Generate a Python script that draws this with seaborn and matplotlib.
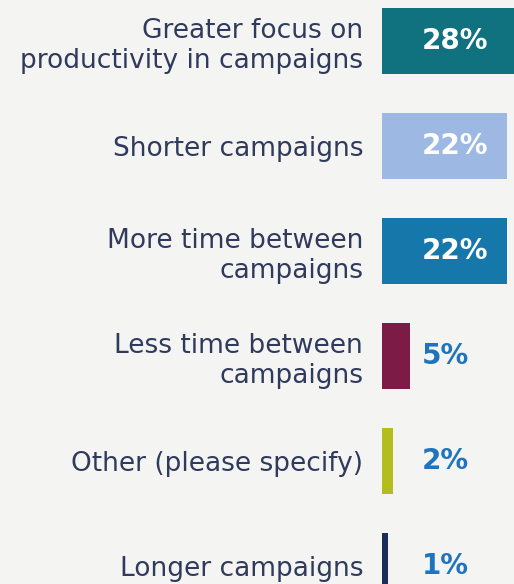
import matplotlib
matplotlib.use("Agg")
import matplotlib.pyplot as plt
import seaborn as sns
import pandas as pd

# Survey responses: how campaign planning has changed
categories = [
    "Greater focus on\nproductivity in campaigns",
    "Shorter campaigns",
    "More time between\ncampaigns",
    "Less time between\ncampaigns",
    "Other (please specify)",
    "Longer campaigns",
]
shares = [28, 22, 22, 5, 2, 1]
value_labels = ["28%", "22%", "22%", "5%", "2%", "1%"]
bar_colors = ["#11727f", "#9db8e2", "#1677ab", "#7c1b46", "#b3bd1c", "#1d2c58"]

df = pd.DataFrame({"category": categories, "share": shares})

BG = "#f4f4f2"
LABEL_COLOR = "#2f3a5c"
VALUE_BLUE = "#1f74bd"

sns.set_theme(style="white")
plt.rcParams["font.family"] = ["DejaVu Sans"]

fig = plt.figure(figsize=(5.14, 5.84), dpi=100, facecolor=BG)
ax = fig.add_axes([382 / 514, 0, 1 - 382 / 514, 1])
ax.set_facecolor(BG)

sns.barplot(
    data=df, x="share", y="category", hue="category",
    palette=bar_colors, orient="h", width=0.63, legend=False,
    saturation=1, linewidth=0, ax=ax,
)

# horizontal scale: 22% spans 125 px, the longest bar runs off the right edge
px_per_pct = 125 / 22
ax.set_xlim(0, (514 - 382) / px_per_pct)
# vertical scale: one category row every 105 px
step = 105
ax.set_ylim(5 + (584 - 566) / step, -41 / step)

for s in ax.spines.values():
    s.set_visible(False)
ax.set_xticks([])
ax.set_xlabel("")
ax.set_ylabel("")
ax.tick_params(axis="y", length=0, pad=13.5)
ax.set_yticks(range(len(categories)))
ax.set_yticklabels(categories, fontsize=19, color=LABEL_COLOR,
                   ha="right", linespacing=1.22)

for i, (v, lab) in enumerate(zip(shares, value_labels)):
    color = "white" if v >= 20 else VALUE_BLUE
    ax.annotate(lab, xy=(0, i), xytext=(28.5, 0), textcoords="offset points",
                ha="left", va="center", fontsize=20, fontweight="bold",
                color=color)

fig.savefig("out.png", dpi=100, facecolor=BG)
